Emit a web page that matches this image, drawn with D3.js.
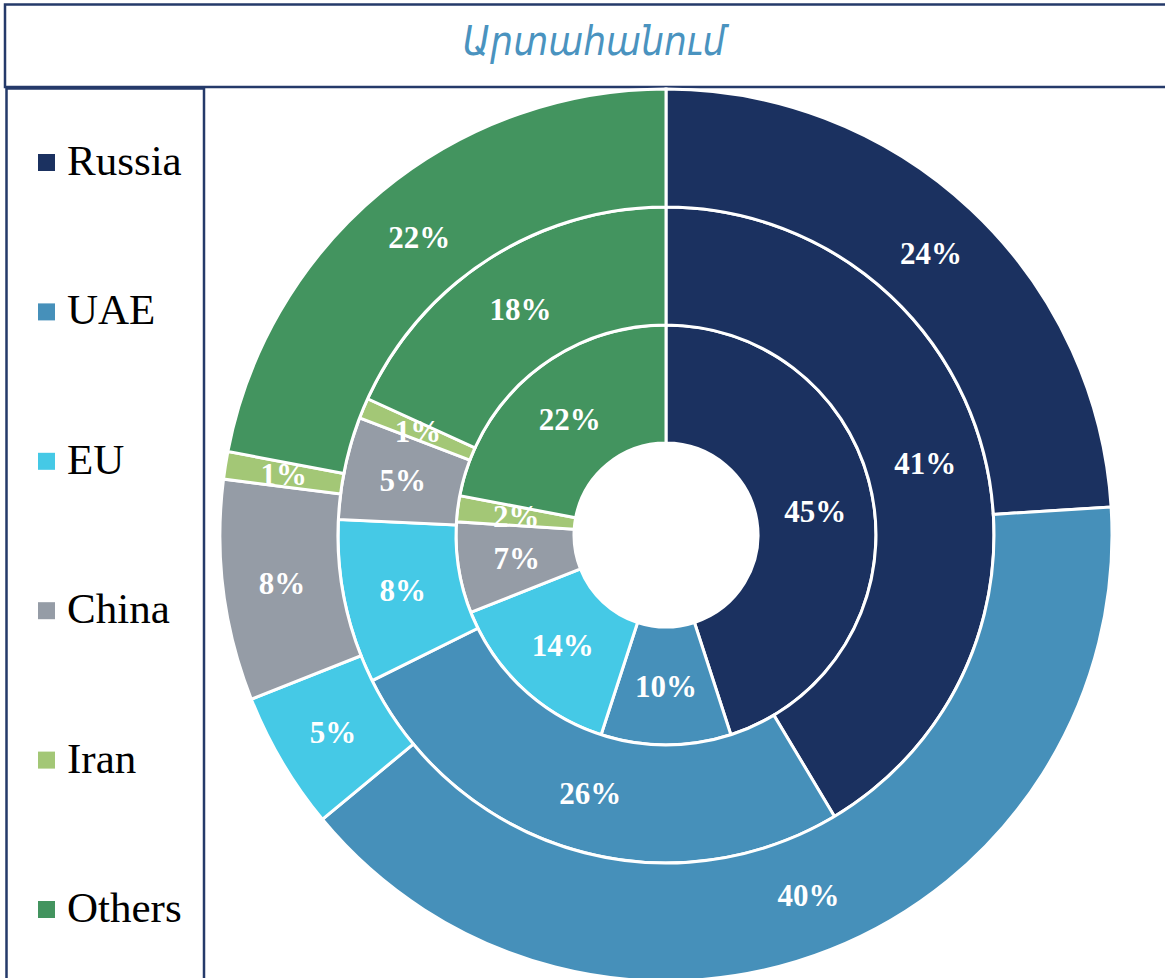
<!DOCTYPE html>
<html><head><meta charset="utf-8">
<script src="https://cdn.jsdelivr.net/npm/d3@7"></script>
<style>html,body{margin:0;padding:0;background:#fff;overflow:hidden}</style>
</head><body>
<svg id="c" width="1165" height="978"></svg>
<script>
const categories = ["Russia","UAE","EU","China","Iran","Others"];
const colors = ["#1b3160","#4690ba","#45c9e6","#959ca6","#a3c776","#43945f"];
const innerValues = [45,10,14,7,2,22];
const middleValues = [41,26,8,5,1,18];
const outerValues = [24,40,5,8,1,22];
const title = "Արտահանում";

const svg = d3.select("#c");
const W = 1165, H = 978;
svg.append("rect").attr("width",W).attr("height",H).attr("fill","#fff");

// frames
const frameColor = "#253a6a";
svg.append("rect").attr("x",5).attr("y",4.5).attr("width",W+20).attr("height",82.5)
  .attr("fill","none").attr("stroke",frameColor).attr("stroke-width",2.5);
svg.append("rect").attr("x",6.5).attr("y",88.5).attr("width",197.5).attr("height",H+20)
  .attr("fill","none").attr("stroke",frameColor).attr("stroke-width",2.5);

svg.append("text").attr("x",594).attr("y",55).attr("text-anchor","middle")
  .attr("font-family","'DejaVu Sans Condensed','DejaVu Sans',sans-serif")
  .attr("font-style","italic").attr("font-size",40).attr("fill","#4a93bf")
  .text(title);

// legend
const ly = d3.scalePoint().domain(categories).range([162,909]);
const leg = svg.append("g");
categories.forEach((c,i)=>{
  leg.append("rect").attr("x",38).attr("y",ly(c)-8).attr("width",17).attr("height",17).attr("fill",colors[i]);
  leg.append("text").attr("x",67).attr("y",ly(c)+13).attr("font-family","'Liberation Serif','Times New Roman',serif")
    .attr("font-size",43).attr("fill","#000").text(c);
});

const cx = 666, cy = 535;
const g = svg.append("g").attr("transform",`translate(${cx},${cy})`);
const pie = d3.pie().sort(null).value(d=>d);
const rings = [
  {vals: innerValues, r0: 92, r1: 210},
  {vals: middleValues, r0: 210, r1: 328},
  {vals: outerValues, r0: 328, r1: 446}
];
const color = d3.scaleOrdinal().domain(d3.range(6)).range(colors);
rings.forEach(ring=>{
  const arc = d3.arc().innerRadius(ring.r0).outerRadius(ring.r1);
  const arcs = pie(ring.vals);
  g.append("g").selectAll("path").data(arcs).join("path")
    .attr("d",arc).attr("fill",(d,i)=>color(i))
    .attr("stroke","#fff").attr("stroke-width",3).attr("stroke-linejoin","miter");
  g.append("g").selectAll("text").data(arcs).join("text")
    .attr("transform",d=>`translate(${arc.centroid(d)})`)
    .attr("text-anchor","middle").attr("dy","0.35em")
    .attr("font-family","'Liberation Serif','Times New Roman',serif")
    .attr("font-weight","bold").attr("font-size",31).attr("fill","#fff")
    .text(d=>d.data+"%");
});
</script>
</body></html>
